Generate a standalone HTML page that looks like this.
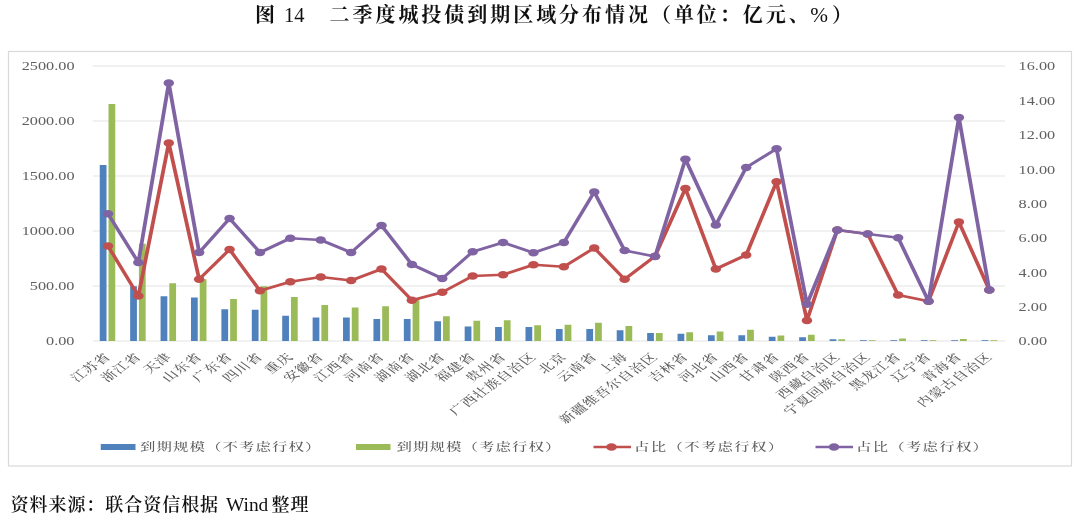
<!DOCTYPE html>
<html lang="zh-CN"><head><meta charset="utf-8"><title>图 14 二季度城投债到期区域分布情况</title>
<style>
html,body{margin:0;padding:0;background:#fff;}
body{width:1080px;height:520px;overflow:hidden;position:relative;}
svg{position:absolute;left:0;top:0;display:block;}
.t{font-family:"Liberation Serif","Noto Serif CJK SC",serif;}
.ax{font-family:"Liberation Serif","Noto Serif CJK SC",serif;font-weight:500;fill:#606060;}
</style></head><body>
<svg width="1080" height="520" viewBox="0 0 1080 520">
<rect x="0" y="0" width="1080" height="520" fill="#fff"/>
<text class="t" y="21.8" font-size="20" font-weight="700" fill="#111"><tspan x="255">图</tspan> <tspan x="284" font-size="20.5" font-weight="400">14</tspan> <tspan x="329.5" letter-spacing="2.96">二季度城投债到期区域分布情况（单位：亿元、</tspan><tspan x="810.3" font-size="21.3" font-weight="400">%</tspan><tspan x="832">）</tspan></text>
<defs><filter id="soft" x="-2%" y="-2%" width="104%" height="104%"><feGaussianBlur stdDeviation="0.4"/></filter></defs>
<g filter="url(#soft)">
<rect x="8.5" y="51.5" width="1063" height="414.5" fill="#fff" stroke="#d9d9d9" stroke-width="1.2"/>
<line x1="92.8" y1="66.00" x2="1005" y2="66.00" stroke="#ededed" stroke-width="1.5"/>
<line x1="92.8" y1="121.00" x2="1005" y2="121.00" stroke="#ededed" stroke-width="1.5"/>
<line x1="92.8" y1="176.00" x2="1005" y2="176.00" stroke="#ededed" stroke-width="1.5"/>
<line x1="92.8" y1="231.00" x2="1005" y2="231.00" stroke="#ededed" stroke-width="1.5"/>
<line x1="92.8" y1="286.00" x2="1005" y2="286.00" stroke="#ededed" stroke-width="1.5"/>
<line x1="92.8" y1="341.00" x2="1005" y2="341.00" stroke="#ededed" stroke-width="1.5"/>
<text class="ax" font-size="11.6" text-anchor="end" transform="translate(74.5,70.40) scale(1.4,1)">2500.00</text>
<text class="ax" font-size="11.6" text-anchor="end" transform="translate(74.5,125.40) scale(1.4,1)">2000.00</text>
<text class="ax" font-size="11.6" text-anchor="end" transform="translate(74.5,180.40) scale(1.4,1)">1500.00</text>
<text class="ax" font-size="11.6" text-anchor="end" transform="translate(74.5,235.40) scale(1.4,1)">1000.00</text>
<text class="ax" font-size="11.6" text-anchor="end" transform="translate(74.5,290.40) scale(1.4,1)">500.00</text>
<text class="ax" font-size="11.6" text-anchor="end" transform="translate(74.5,345.40) scale(1.4,1)">0.00</text>
<text class="ax" font-size="11.6" text-anchor="start" transform="translate(1018.6,70.40) scale(1.4,1)">16.00</text>
<text class="ax" font-size="11.6" text-anchor="start" transform="translate(1018.6,104.78) scale(1.4,1)">14.00</text>
<text class="ax" font-size="11.6" text-anchor="start" transform="translate(1018.6,139.15) scale(1.4,1)">12.00</text>
<text class="ax" font-size="11.6" text-anchor="start" transform="translate(1018.6,173.53) scale(1.4,1)">10.00</text>
<text class="ax" font-size="11.6" text-anchor="start" transform="translate(1018.6,207.90) scale(1.4,1)">8.00</text>
<text class="ax" font-size="11.6" text-anchor="start" transform="translate(1018.6,242.28) scale(1.4,1)">6.00</text>
<text class="ax" font-size="11.6" text-anchor="start" transform="translate(1018.6,276.65) scale(1.4,1)">4.00</text>
<text class="ax" font-size="11.6" text-anchor="start" transform="translate(1018.6,311.02) scale(1.4,1)">2.00</text>
<text class="ax" font-size="11.6" text-anchor="start" transform="translate(1018.6,345.40) scale(1.4,1)">0.00</text>
<rect x="99.75" y="165.00" width="6.75" height="176.00" fill="#4F81BD"/><rect x="108.50" y="104.00" width="6.75" height="237.00" fill="#9BBB59"/>
<rect x="130.16" y="286.25" width="6.75" height="54.75" fill="#4F81BD"/><rect x="138.91" y="243.75" width="6.75" height="97.25" fill="#9BBB59"/>
<rect x="160.57" y="296.25" width="6.75" height="44.75" fill="#4F81BD"/><rect x="169.32" y="283.25" width="6.75" height="57.75" fill="#9BBB59"/>
<rect x="190.98" y="297.50" width="6.75" height="43.50" fill="#4F81BD"/><rect x="199.73" y="279.25" width="6.75" height="61.75" fill="#9BBB59"/>
<rect x="221.39" y="309.25" width="6.75" height="31.75" fill="#4F81BD"/><rect x="230.14" y="299.00" width="6.75" height="42.00" fill="#9BBB59"/>
<rect x="251.80" y="309.75" width="6.75" height="31.25" fill="#4F81BD"/><rect x="260.55" y="286.25" width="6.75" height="54.75" fill="#9BBB59"/>
<rect x="282.21" y="315.75" width="6.75" height="25.25" fill="#4F81BD"/><rect x="290.96" y="297.00" width="6.75" height="44.00" fill="#9BBB59"/>
<rect x="312.62" y="317.50" width="6.75" height="23.50" fill="#4F81BD"/><rect x="321.37" y="305.00" width="6.75" height="36.00" fill="#9BBB59"/>
<rect x="343.03" y="317.50" width="6.75" height="23.50" fill="#4F81BD"/><rect x="351.78" y="307.50" width="6.75" height="33.50" fill="#9BBB59"/>
<rect x="373.44" y="319.00" width="6.75" height="22.00" fill="#4F81BD"/><rect x="382.19" y="306.25" width="6.75" height="34.75" fill="#9BBB59"/>
<rect x="403.85" y="319.00" width="6.75" height="22.00" fill="#4F81BD"/><rect x="412.60" y="298.00" width="6.75" height="43.00" fill="#9BBB59"/>
<rect x="434.26" y="321.25" width="6.75" height="19.75" fill="#4F81BD"/><rect x="443.01" y="316.25" width="6.75" height="24.75" fill="#9BBB59"/>
<rect x="464.67" y="326.50" width="6.75" height="14.50" fill="#4F81BD"/><rect x="473.42" y="320.75" width="6.75" height="20.25" fill="#9BBB59"/>
<rect x="495.08" y="327.00" width="6.75" height="14.00" fill="#4F81BD"/><rect x="503.83" y="320.25" width="6.75" height="20.75" fill="#9BBB59"/>
<rect x="525.49" y="327.00" width="6.75" height="14.00" fill="#4F81BD"/><rect x="534.24" y="325.25" width="6.75" height="15.75" fill="#9BBB59"/>
<rect x="555.90" y="329.00" width="6.75" height="12.00" fill="#4F81BD"/><rect x="564.65" y="324.75" width="6.75" height="16.25" fill="#9BBB59"/>
<rect x="586.31" y="329.00" width="6.75" height="12.00" fill="#4F81BD"/><rect x="595.06" y="322.75" width="6.75" height="18.25" fill="#9BBB59"/>
<rect x="616.72" y="330.25" width="6.75" height="10.75" fill="#4F81BD"/><rect x="625.47" y="326.00" width="6.75" height="15.00" fill="#9BBB59"/>
<rect x="647.13" y="333.00" width="6.75" height="8.00" fill="#4F81BD"/><rect x="655.88" y="333.00" width="6.75" height="8.00" fill="#9BBB59"/>
<rect x="677.54" y="333.75" width="6.75" height="7.25" fill="#4F81BD"/><rect x="686.29" y="332.25" width="6.75" height="8.75" fill="#9BBB59"/>
<rect x="707.95" y="335.25" width="6.75" height="5.75" fill="#4F81BD"/><rect x="716.70" y="331.50" width="6.75" height="9.50" fill="#9BBB59"/>
<rect x="738.36" y="335.25" width="6.75" height="5.75" fill="#4F81BD"/><rect x="747.11" y="329.75" width="6.75" height="11.25" fill="#9BBB59"/>
<rect x="768.77" y="336.75" width="6.75" height="4.25" fill="#4F81BD"/><rect x="777.52" y="335.50" width="6.75" height="5.50" fill="#9BBB59"/>
<rect x="799.18" y="337.25" width="6.75" height="3.75" fill="#4F81BD"/><rect x="807.93" y="334.75" width="6.75" height="6.25" fill="#9BBB59"/>
<rect x="829.59" y="339.25" width="6.75" height="1.75" fill="#4F81BD"/><rect x="838.34" y="339.25" width="6.75" height="1.75" fill="#9BBB59"/>
<rect x="860.00" y="340.20" width="6.75" height="0.80" fill="#4F81BD"/><rect x="868.75" y="340.20" width="6.75" height="0.80" fill="#9BBB59"/>
<rect x="890.41" y="340.20" width="6.75" height="0.80" fill="#4F81BD"/><rect x="899.16" y="338.50" width="6.75" height="2.50" fill="#9BBB59"/>
<rect x="920.82" y="340.20" width="6.75" height="0.80" fill="#4F81BD"/><rect x="929.57" y="340.20" width="6.75" height="0.80" fill="#9BBB59"/>
<rect x="951.23" y="340.20" width="6.75" height="0.80" fill="#4F81BD"/><rect x="959.98" y="339.00" width="6.75" height="2.00" fill="#9BBB59"/>
<rect x="981.64" y="340.20" width="6.75" height="0.80" fill="#4F81BD"/><rect x="990.39" y="340.20" width="6.75" height="0.80" fill="#9BBB59"/>
<g transform="scale(1.4,1)"><polyline points="77.14,246.00 98.85,296.00 120.56,143.00 142.26,279.25 163.97,249.50 185.68,290.75 207.39,281.75 229.09,277.00 250.80,280.50 272.51,269.00 294.21,300.25 315.92,292.25 337.63,276.00 359.34,274.75 381.04,264.75 402.75,266.75 424.46,248.00 446.16,279.25 467.87,256.25 489.58,188.50 511.29,269.00 532.99,255.00 554.70,181.75 576.41,320.50 598.11,230.00 619.82,234.00 641.53,295.00 663.24,301.25 684.94,222.00 706.65,290.00" fill="none" stroke="#C0504D" stroke-width="2.7" stroke-linejoin="round" stroke-linecap="round"/>
<circle cx="77.14" cy="246.00" r="3.75" fill="#C0504D"/><circle cx="98.85" cy="296.00" r="3.75" fill="#C0504D"/><circle cx="120.56" cy="143.00" r="3.75" fill="#C0504D"/><circle cx="142.26" cy="279.25" r="3.75" fill="#C0504D"/><circle cx="163.97" cy="249.50" r="3.75" fill="#C0504D"/><circle cx="185.68" cy="290.75" r="3.75" fill="#C0504D"/><circle cx="207.39" cy="281.75" r="3.75" fill="#C0504D"/><circle cx="229.09" cy="277.00" r="3.75" fill="#C0504D"/><circle cx="250.80" cy="280.50" r="3.75" fill="#C0504D"/><circle cx="272.51" cy="269.00" r="3.75" fill="#C0504D"/><circle cx="294.21" cy="300.25" r="3.75" fill="#C0504D"/><circle cx="315.92" cy="292.25" r="3.75" fill="#C0504D"/><circle cx="337.63" cy="276.00" r="3.75" fill="#C0504D"/><circle cx="359.34" cy="274.75" r="3.75" fill="#C0504D"/><circle cx="381.04" cy="264.75" r="3.75" fill="#C0504D"/><circle cx="402.75" cy="266.75" r="3.75" fill="#C0504D"/><circle cx="424.46" cy="248.00" r="3.75" fill="#C0504D"/><circle cx="446.16" cy="279.25" r="3.75" fill="#C0504D"/><circle cx="467.87" cy="256.25" r="3.75" fill="#C0504D"/><circle cx="489.58" cy="188.50" r="3.75" fill="#C0504D"/><circle cx="511.29" cy="269.00" r="3.75" fill="#C0504D"/><circle cx="532.99" cy="255.00" r="3.75" fill="#C0504D"/><circle cx="554.70" cy="181.75" r="3.75" fill="#C0504D"/><circle cx="576.41" cy="320.50" r="3.75" fill="#C0504D"/><circle cx="598.11" cy="230.00" r="3.75" fill="#C0504D"/><circle cx="619.82" cy="234.00" r="3.75" fill="#C0504D"/><circle cx="641.53" cy="295.00" r="3.75" fill="#C0504D"/><circle cx="663.24" cy="301.25" r="3.75" fill="#C0504D"/><circle cx="684.94" cy="222.00" r="3.75" fill="#C0504D"/><circle cx="706.65" cy="290.00" r="3.75" fill="#C0504D"/></g>
<g transform="scale(1.4,1)"><polyline points="77.14,213.75 98.85,262.50 120.56,83.00 142.26,252.50 163.97,218.50 185.68,252.50 207.39,238.25 229.09,240.00 250.80,252.50 272.51,225.50 294.21,264.50 315.92,278.50 337.63,251.75 359.34,242.50 381.04,252.75 402.75,242.50 424.46,192.00 446.16,250.50 467.87,256.50 489.58,159.25 511.29,225.00 532.99,167.50 554.70,148.75 576.41,304.25 598.11,230.00 619.82,234.00 641.53,237.75 663.24,301.25 684.94,117.50 706.65,290.00" fill="none" stroke="#8064A2" stroke-width="2.7" stroke-linejoin="round" stroke-linecap="round"/>
<circle cx="77.14" cy="213.75" r="3.75" fill="#8064A2"/><circle cx="98.85" cy="262.50" r="3.75" fill="#8064A2"/><circle cx="120.56" cy="83.00" r="3.75" fill="#8064A2"/><circle cx="142.26" cy="252.50" r="3.75" fill="#8064A2"/><circle cx="163.97" cy="218.50" r="3.75" fill="#8064A2"/><circle cx="185.68" cy="252.50" r="3.75" fill="#8064A2"/><circle cx="207.39" cy="238.25" r="3.75" fill="#8064A2"/><circle cx="229.09" cy="240.00" r="3.75" fill="#8064A2"/><circle cx="250.80" cy="252.50" r="3.75" fill="#8064A2"/><circle cx="272.51" cy="225.50" r="3.75" fill="#8064A2"/><circle cx="294.21" cy="264.50" r="3.75" fill="#8064A2"/><circle cx="315.92" cy="278.50" r="3.75" fill="#8064A2"/><circle cx="337.63" cy="251.75" r="3.75" fill="#8064A2"/><circle cx="359.34" cy="242.50" r="3.75" fill="#8064A2"/><circle cx="381.04" cy="252.75" r="3.75" fill="#8064A2"/><circle cx="402.75" cy="242.50" r="3.75" fill="#8064A2"/><circle cx="424.46" cy="192.00" r="3.75" fill="#8064A2"/><circle cx="446.16" cy="250.50" r="3.75" fill="#8064A2"/><circle cx="467.87" cy="256.50" r="3.75" fill="#8064A2"/><circle cx="489.58" cy="159.25" r="3.75" fill="#8064A2"/><circle cx="511.29" cy="225.00" r="3.75" fill="#8064A2"/><circle cx="532.99" cy="167.50" r="3.75" fill="#8064A2"/><circle cx="554.70" cy="148.75" r="3.75" fill="#8064A2"/><circle cx="576.41" cy="304.25" r="3.75" fill="#8064A2"/><circle cx="598.11" cy="230.00" r="3.75" fill="#8064A2"/><circle cx="619.82" cy="234.00" r="3.75" fill="#8064A2"/><circle cx="641.53" cy="237.75" r="3.75" fill="#8064A2"/><circle cx="663.24" cy="301.25" r="3.75" fill="#8064A2"/><circle cx="684.94" cy="117.50" r="3.75" fill="#8064A2"/><circle cx="706.65" cy="290.00" r="3.75" fill="#8064A2"/></g>
<text class="ax" font-size="11" letter-spacing="0.8" text-anchor="end" transform="translate(112.00,357.50) scale(1.4,1) rotate(-45)">江苏省</text>
<text class="ax" font-size="11" letter-spacing="0.8" text-anchor="end" transform="translate(142.39,357.50) scale(1.4,1) rotate(-45)">浙江省</text>
<text class="ax" font-size="11" letter-spacing="0.8" text-anchor="end" transform="translate(172.78,357.50) scale(1.4,1) rotate(-45)">天津</text>
<text class="ax" font-size="11" letter-spacing="0.8" text-anchor="end" transform="translate(203.17,357.50) scale(1.4,1) rotate(-45)">山东省</text>
<text class="ax" font-size="11" letter-spacing="0.8" text-anchor="end" transform="translate(233.56,357.50) scale(1.4,1) rotate(-45)">广东省</text>
<text class="ax" font-size="11" letter-spacing="0.8" text-anchor="end" transform="translate(263.95,357.50) scale(1.4,1) rotate(-45)">四川省</text>
<text class="ax" font-size="11" letter-spacing="0.8" text-anchor="end" transform="translate(294.34,357.50) scale(1.4,1) rotate(-45)">重庆</text>
<text class="ax" font-size="11" letter-spacing="0.8" text-anchor="end" transform="translate(324.73,357.50) scale(1.4,1) rotate(-45)">安徽省</text>
<text class="ax" font-size="11" letter-spacing="0.8" text-anchor="end" transform="translate(355.12,357.50) scale(1.4,1) rotate(-45)">江西省</text>
<text class="ax" font-size="11" letter-spacing="0.8" text-anchor="end" transform="translate(385.51,357.50) scale(1.4,1) rotate(-45)">河南省</text>
<text class="ax" font-size="11" letter-spacing="0.8" text-anchor="end" transform="translate(415.90,357.50) scale(1.4,1) rotate(-45)">湖南省</text>
<text class="ax" font-size="11" letter-spacing="0.8" text-anchor="end" transform="translate(446.29,357.50) scale(1.4,1) rotate(-45)">湖北省</text>
<text class="ax" font-size="11" letter-spacing="0.8" text-anchor="end" transform="translate(476.68,357.50) scale(1.4,1) rotate(-45)">福建省</text>
<text class="ax" font-size="11" letter-spacing="0.8" text-anchor="end" transform="translate(507.07,357.50) scale(1.4,1) rotate(-45)">贵州省</text>
<text class="ax" font-size="11" letter-spacing="0.8" text-anchor="end" transform="translate(537.46,357.50) scale(1.4,1) rotate(-45)">广西壮族自治区</text>
<text class="ax" font-size="11" letter-spacing="0.8" text-anchor="end" transform="translate(567.85,357.50) scale(1.4,1) rotate(-45)">北京</text>
<text class="ax" font-size="11" letter-spacing="0.8" text-anchor="end" transform="translate(598.24,357.50) scale(1.4,1) rotate(-45)">云南省</text>
<text class="ax" font-size="11" letter-spacing="0.8" text-anchor="end" transform="translate(628.63,357.50) scale(1.4,1) rotate(-45)">上海</text>
<text class="ax" font-size="11" letter-spacing="0.8" text-anchor="end" transform="translate(659.02,357.50) scale(1.4,1) rotate(-45)">新疆维吾尔自治区</text>
<text class="ax" font-size="11" letter-spacing="0.8" text-anchor="end" transform="translate(689.41,357.50) scale(1.4,1) rotate(-45)">吉林省</text>
<text class="ax" font-size="11" letter-spacing="0.8" text-anchor="end" transform="translate(719.80,357.50) scale(1.4,1) rotate(-45)">河北省</text>
<text class="ax" font-size="11" letter-spacing="0.8" text-anchor="end" transform="translate(750.19,357.50) scale(1.4,1) rotate(-45)">山西省</text>
<text class="ax" font-size="11" letter-spacing="0.8" text-anchor="end" transform="translate(780.58,357.50) scale(1.4,1) rotate(-45)">甘肃省</text>
<text class="ax" font-size="11" letter-spacing="0.8" text-anchor="end" transform="translate(810.97,357.50) scale(1.4,1) rotate(-45)">陕西省</text>
<text class="ax" font-size="11" letter-spacing="0.8" text-anchor="end" transform="translate(841.36,357.50) scale(1.4,1) rotate(-45)">西藏自治区</text>
<text class="ax" font-size="11" letter-spacing="0.8" text-anchor="end" transform="translate(871.75,357.50) scale(1.4,1) rotate(-45)">宁夏回族自治区</text>
<text class="ax" font-size="11" letter-spacing="0.8" text-anchor="end" transform="translate(902.14,357.50) scale(1.4,1) rotate(-45)">黑龙江省</text>
<text class="ax" font-size="11" letter-spacing="0.8" text-anchor="end" transform="translate(932.53,357.50) scale(1.4,1) rotate(-45)">辽宁省</text>
<text class="ax" font-size="11" letter-spacing="0.8" text-anchor="end" transform="translate(962.92,357.50) scale(1.4,1) rotate(-45)">青海省</text>
<text class="ax" font-size="11" letter-spacing="0.8" text-anchor="end" transform="translate(993.31,357.50) scale(1.4,1) rotate(-45)">内蒙古自治区</text>
<rect x="100.75" y="444" width="34.75" height="6" fill="#4F81BD"/>
<text class="ax" font-size="11" letter-spacing="0.8" transform="translate(140,451) scale(1.4,1)">到期规模（不考虑行权）</text>
<rect x="356" y="444" width="34.5" height="6" fill="#9BBB59"/>
<text class="ax" font-size="11" letter-spacing="0.8" transform="translate(396.5,451) scale(1.4,1)">到期规模（考虑行权）</text>
<line x1="593.5" y1="447" x2="631" y2="447" stroke="#C0504D" stroke-width="2.7"/><ellipse cx="611.5" cy="447" rx="5.25" ry="3.75" fill="#C0504D"/>
<text class="ax" font-size="11" letter-spacing="0.95" transform="translate(634,451) scale(1.4,1)">占比（不考虑行权）</text>
<line x1="815.5" y1="447" x2="853" y2="447" stroke="#8064A2" stroke-width="2.7"/><ellipse cx="834" cy="447" rx="5.25" ry="3.75" fill="#8064A2"/>
<text class="ax" font-size="11" letter-spacing="0.9" transform="translate(856,451) scale(1.4,1)">占比（考虑行权）</text>
</g>
<text class="t" y="511.3" font-size="18" fill="#111"><tspan x="10.5" font-weight="600" letter-spacing="0.96">资料来源：联合资信根据</tspan> <tspan x="226" font-size="19.4">Wind</tspan> <tspan x="271.5" font-weight="600" letter-spacing="0.96">整理</tspan></text>
</svg>
</body></html>
